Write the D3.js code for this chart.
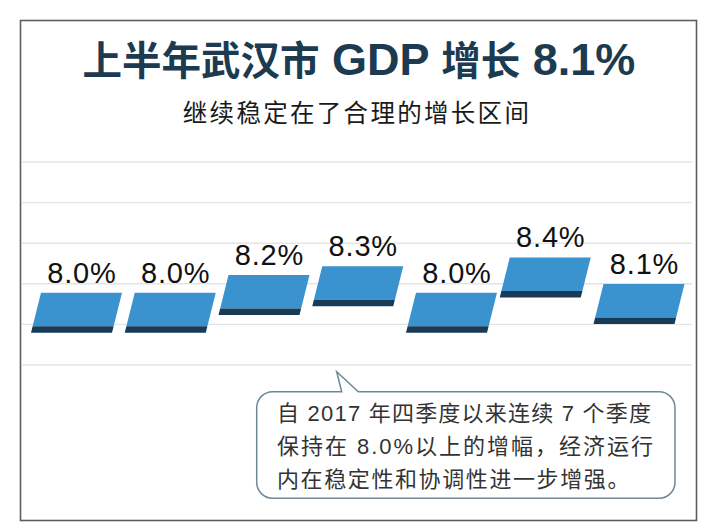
<!DOCTYPE html>
<html><head><meta charset="utf-8">
<script src="https://cdn.jsdelivr.net/npm/d3@7/dist/d3.min.js"></script>
<style>html,body{margin:0;padding:0;background:#fff;}svg{display:block;}</style>
</head><body>
<svg id="chart" width="708" height="529"></svg>
<script>
const categories = ["2017Q4","2018Q1","2018H1","2018Q3","2018","2019Q1","2019H1"];
const values = [8.0, 8.0, 8.2, 8.3, 8.0, 8.4, 8.1];
const labels = ["8.0%","8.0%","8.2%","8.3%","8.0%","8.4%","8.1%"];
const gridTicks = [0,1,2,3,4,5];
const titleParts = [["上半年武汉市",39.5],[" GDP ",45],["增长",39.5],[" 8.1%",45]];
const subtitle = "继续稳定在了合理的增长区间";
const noteLines = ["自 2017 年四季度以来连续 7 个季度","保持在 8.0%以上的增幅，经济运行","内在稳定性和协调性进一步增强。"];

const svg = d3.select("#chart");
const FONT = "'Liberation Sans','Noto Sans CJK SC',sans-serif";

// frame
svg.append("rect").attr("x",20.5).attr("y",20.5).attr("width",676).attr("height",500)
  .attr("fill","#fff").attr("stroke","#5e5e5e").attr("stroke-width",1.6);

// title
const t = svg.append("text").attr("x",359).attr("y",75).attr("text-anchor","middle")
  .attr("font-family",FONT).attr("font-weight","bold").attr("fill","#1c3a50");
titleParts.forEach(p=>t.append("tspan").attr("font-size",p[1]).text(p[0]));

svg.append("text").attr("x",357).attr("y",122).attr("text-anchor","middle")
  .attr("font-family",FONT).attr("font-size",24.5).attr("letter-spacing",2.3)
  .attr("fill","#1a1a1a").text(subtitle);

// gridlines
const g = d3.scaleLinear().domain([0,5]).range([365,162]);
svg.append("g").selectAll("line").data(gridTicks).join("line")
  .attr("x1",22).attr("x2",692).attr("y1",d=>g(d)).attr("y2",d=>g(d))
  .attr("stroke","#e4e4e4").attr("stroke-width",1.4);

// scales
const x = d3.scaleBand().domain(categories).range([29.6,685.9]).paddingInner(0.125).paddingOuter(0.0625);
const y = d3.scaleLinear().domain([8.0,8.4]).range([292.8,257.4]);

const barH = 40, faceH = 33.5, skew = 10/40;
function para(cx, top, h0, h1){
  const tl = cx-35.5, tr = cx+45.5;
  const p = (xx,h)=>[xx-h*skew, top+h];
  const pts=[p(tl,h0),p(tr,h0),p(tr,h1),p(tl,h1)];
  return "M"+pts.map(d=>d.join(",")).join("L")+"Z";
}
const bars = svg.append("g").selectAll("g").data(categories).join("g");
bars.append("path").attr("fill","#3a92cf")
  .attr("d",(c,i)=>para(x(c)+x.bandwidth()/2, y(values[i]), 0, faceH));
bars.append("path").attr("fill","#183c57")
  .attr("d",(c,i)=>para(x(c)+x.bandwidth()/2, y(values[i]), faceH, barH));
bars.append("text").attr("x",(c)=>x(c)+x.bandwidth()/2+5.5)
  .attr("y",(c,i)=>y(values[i])-10).attr("text-anchor","middle")
  .attr("font-family",FONT).attr("font-size",29).attr("letter-spacing",0.8)
  .attr("fill","#111").text((c,i)=>labels[i]);

// callout
const bx0=256.7,bx1=675,by0=391.7,by1=498.3,r=16;
const path = d3.path();
path.moveTo(bx0+r,by0);
path.lineTo(341.7,by0); path.lineTo(336.7,371.7); path.lineTo(358.3,by0);
path.lineTo(bx1-r,by0); path.arcTo(bx1,by0,bx1,by0+r,r);
path.lineTo(bx1,by1-r); path.arcTo(bx1,by1,bx1-r,by1,r);
path.lineTo(bx0+r,by1); path.arcTo(bx0,by1,bx0,by1-r,r);
path.lineTo(bx0,by0+r); path.arcTo(bx0,by0,bx0+r,by0,r);
path.closePath();
svg.append("path").attr("d",path.toString()).attr("fill","#fff")
  .attr("stroke","#6d8897").attr("stroke-width",1.5);

const lens=[374,376,null];
svg.append("g").selectAll("text").data(noteLines).join("text")
  .attr("x",277).attr("y",(d,i)=>421+i*33)
  .attr("font-family",FONT).attr("font-size",22).attr("fill","#333")
  .each(function(d,i){ if(lens[i]) d3.select(this).attr("textLength",lens[i]).attr("lengthAdjust","spacing"); else d3.select(this).attr("letter-spacing",1.6); })
  .text(d=>d);
</script>
</body></html>
